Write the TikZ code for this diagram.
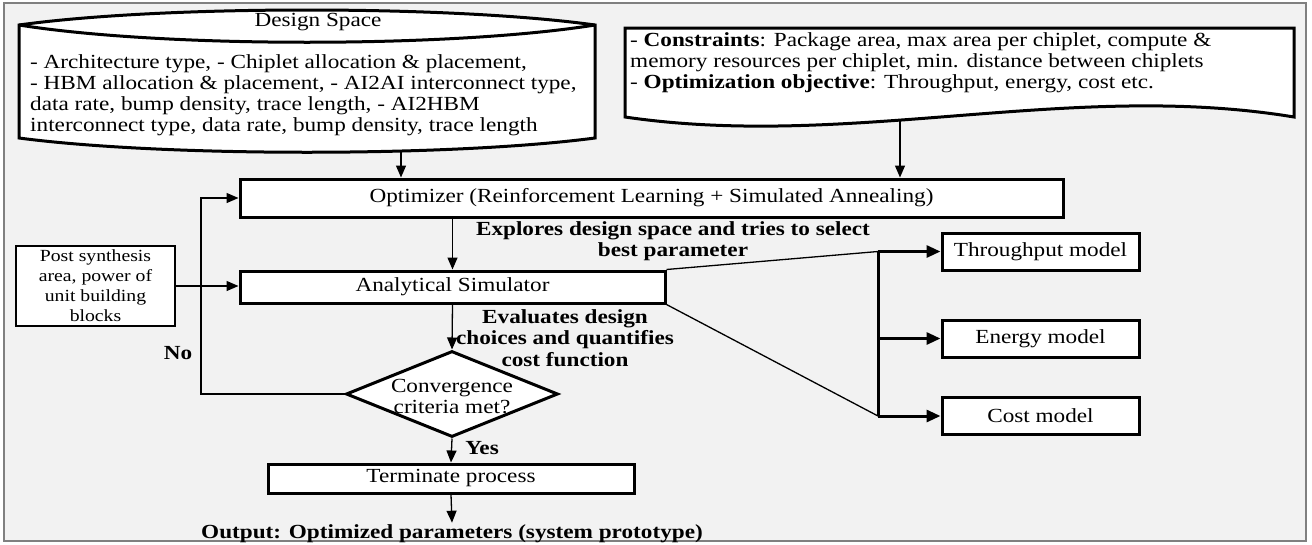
\documentclass[tikz,border=0pt]{standalone}
\usepackage{fontspec}
\setmainfont{Liberation Serif}[FakeStretch=1.16]
\usepackage{tikz}
\usetikzlibrary{arrows.meta,shapes.geometric}
\definecolor{FrameGray}{HTML}{F2F2F2}
\definecolor{FrameLine}{HTML}{808080}

\begin{document}
\begin{tikzpicture}[x=1pt,y=-1pt,
  every node/.style={align=center,inner sep=2pt,font=\fontsize{20}{21}\selectfont},
  block/.style={draw,line width=3pt,fill=white,inner sep=0pt},
  thinblock/.style={draw,line width=1.3pt,fill=white,inner sep=0pt},
  flow/.style={line width=1.3pt,-{Triangle[length=12pt,width=10pt]}},
  fatflow/.style={line width=3pt,-{Triangle[length=14pt,width=12pt]}},
  boldlbl/.style={font=\fontsize{20}{21.5}\selectfont\bfseries}]
  \useasboundingbox (0,0) rectangle (1312,544);
  \draw[FrameLine,line width=2pt,fill=FrameGray] (4,3) rectangle (1306,541);

  % design space (cylinder like shape)
  \draw[line width=3pt,fill=white] (19,25) .. controls (163,5) and (451,5) .. (595,25)
    -- (595,138) .. controls (451,157) and (163,157) .. (19,138) -- cycle;
  \draw[line width=3pt] (19,25) .. controls (163,48) and (451,48) .. (595,25);
  \node (dstitle) at (318,22) {Design Space};
  \node[anchor=west,align=left] (dsbody) at (28,95.5)
    {- Architecture type, - Chiplet allocation \& placement,\\
     - HBM allocation \& placement, - AI2AI interconnect type,\\
     data rate, bump density, trace length, - AI2HBM\\
     interconnect type, data rate, bump density, trace length};
  \coordinate (dsout) at (401,150);

  % constraints (document shape)
  \draw[line width=3pt,fill=white] (625,28) -- (1294,28) -- (1294,117)
    .. controls (1070,80) and (850,150) .. (625,117) -- cycle;
  \node[anchor=west,align=left] (contxt) at (628,63)
    {- \textbf{Constraints}: Package area, max area per chiplet, compute \&\\
     memory resources per chiplet, min. distance between chiplets\\
     - \textbf{Optimization objective}: Throughput, energy, cost etc.};
  \coordinate (conout) at (900,120);

  % flow
  \node[block,minimum width=823pt,minimum height=38pt] (opt) at (651.5,198)
    {Optimizer (Reinforcement Learning + Simulated Annealing)};
  \node[block,minimum width=425pt,minimum height=32pt] (sim) at (452.5,287)
    {Analytical Simulator};
  \node[thinblock,minimum width=159pt,minimum height=80pt,
    font=\fontsize{17}{20}\selectfont] (post) at (95.5,286)
    {Post synthesis\\area, power of\\unit building\\blocks};
  \node[block,shape=diamond,minimum width=212pt,minimum height=86pt] (conv) at (452,394) {};
  \node (convtext) at (452,397) {Convergence\\criteria met?};
  \node[block,minimum width=366pt,minimum height=29pt] (term) at (451,478.5)
    {Terminate process};
  \node[boldlbl] (out) at (452,534) {Output: Optimized parameters (system prototype)};

  \node[boldlbl] (explbl) at (673,241) {Explores design space and tries to select\\best parameter};
  \node[boldlbl] (evallbl) at (565,338) {Evaluates design\\choices and quantifies\\cost function};
  \node[boldlbl] (nolbl) at (178,353) {No};
  \node[boldlbl] (yeslbl) at (482,448) {Yes};

  % models
  \foreach \name/\txt/\yy in {thru/Throughput model/251.5,energy/Energy model/338.5,cost/Cost model/416}
    \node[block,minimum width=197pt,minimum height=37pt] (\name) at (1040.5,\yy) {\txt};
  \coordinate (bartop) at (878,251.5);
  \coordinate (barbot) at (878,416);
  \coordinate (loop) at (201,300);

  \draw[flow] (dsout) -- (opt.north -| dsout);
  \draw[flow] (conout) -- (opt.north -| conout);
  \draw[flow] (sim.north |- opt.south) -- (sim.north);
  \draw[flow] (post.east) -- (post.east -| sim.west);
  \draw[flow] (sim.south) -- (conv.north);
  \draw[flow] (conv.south) -- (term.north);
  \draw[flow] (term.south) -- (out.north);
  \draw[flow] (conv.west) -- (conv.west -| loop) |- (opt.west);

  \draw[line width=1.3pt] (sim.north east) -- (bartop);
  \draw[line width=1.3pt] (sim.south east) -- (barbot);
  \draw[line width=3pt] (bartop) -- (barbot);
  \foreach \name in {thru,energy,cost}
    \draw[fatflow] (bartop |- \name.west) -- (\name.west);
\end{tikzpicture}
\end{document}
